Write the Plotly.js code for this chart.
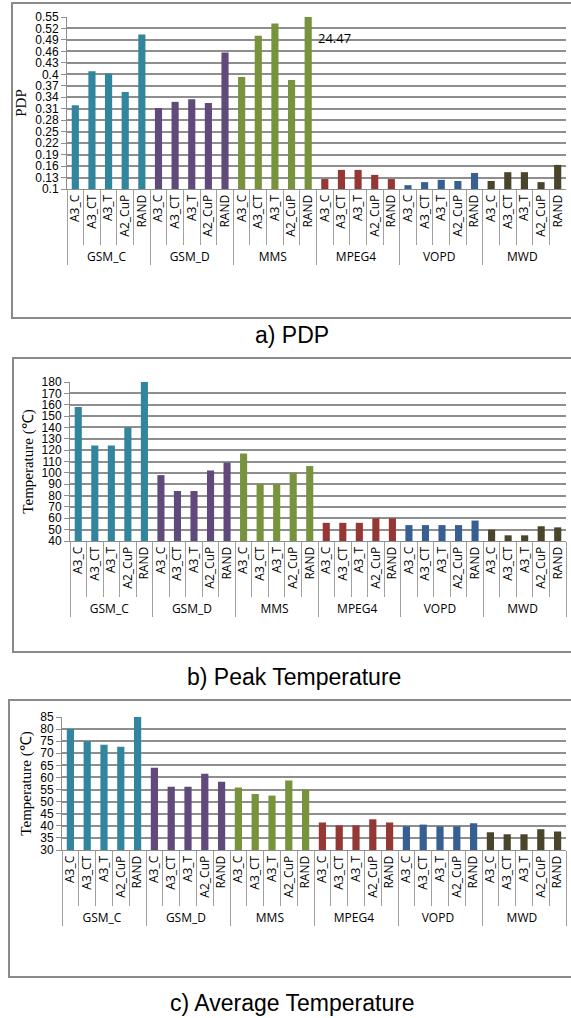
<!DOCTYPE html>
<html>
<head>
<meta charset="utf-8">
<script src="https://cdn.plot.ly/plotly-3.0.1.min.js"></script>
<style>
html,body{margin:0;padding:0;background:#fff;}
#chart{width:571px;height:1018px;}
</style>
</head>
<body>
<div id="chart"></div>
<script>
// ---- data ----
const benchmarks = ['GSM_C','GSM_D','MMS','MPEG4','VOPD','MWD'];
const methods = ['A3_C','A3_CT','A3_T','A2_CuP','RAND'];

const pdpValues = [
  0.319, 0.408, 0.402, 0.354, 0.504,
  0.312, 0.328, 0.335, 0.325, 0.457,
  0.393, 0.501, 0.533, 0.385, 24.47,
  0.126, 0.150, 0.150, 0.137, 0.126,
  0.110, 0.118, 0.124, 0.121, 0.142,
  0.121, 0.144, 0.144, 0.118, 0.163
];
const peakTempValues = [
  158, 124, 124, 140, 180,
  98, 84, 84, 102, 109,
  117, 90, 90, 100, 106,
  56, 56, 56, 60, 60,
  54, 54, 54, 54, 58,
  50, 45, 45, 53, 52
];
const avgTempValues = [
  80, 75, 73.5, 72.7, 85,
  64, 56.2, 56.2, 61.5, 58.2,
  55.8, 53.2, 52.5, 58.7, 55,
  41.4, 40.2, 40.2, 42.7, 41.4,
  39.8, 40.5, 39.8, 39.8, 41.1,
  37.3, 36.5, 36.5, 38.6, 37.7
];
const outOfRangeLabel = '24.47';

const captions = ['a) PDP', 'b) Peak Temperature', 'c) Average Temperature'];
const yTitles = ['PDP', 'Temperature (℃)', 'Temperature (℃)'];

// ---- style ----
const groupColors = ['#31859C','#604A7B','#77933C','#953735','#376092','#4A452A'];
const W = 571, H = 1018;
const px = v => v / W;
const py = v => 1 - v / H;

const xGroup = [], xSub = [], barColors = [];
benchmarks.forEach((b, gi) => methods.forEach(m => {
  xGroup.push(b); xSub.push(m); barColors.push(groupColors[gi]);
}));

function barTrace(vals, xa, ya) {
  return {
    type: 'bar', x: [xGroup, xSub], y: vals, xaxis: xa, yaxis: ya,
    marker: {color: barColors, line: {width: 0}}, hoverinfo: 'skip', showlegend: false
  };
}

const data = [
  barTrace(pdpValues, 'x', 'y'),
  barTrace(peakTempValues, 'x2', 'y2'),
  barTrace(avgTempValues, 'x3', 'y3')
];

const gridCol = '#8e8e8e';
const tickFont = {family: 'Open Sans, Liberation Sans, sans-serif', size: 12, color: '#000'};
function xAxis(dom, anchor) {
  return {
    domain: dom, anchor: anchor, type: 'multicategory', tickangle: -90,
    tickfont: tickFont, showgrid: false, showline: true, linecolor: gridCol, linewidth: 1,
    ticks: 'outside', ticklen: 55, tickcolor: '#a0a0a0', tickwidth: 1,
    showdividers: true, dividercolor: '#a0a0a0', dividerwidth: 1, fixedrange: true
  };
}
function yAxis(dom, anchor, range, tick0, dtick, title) {
  return {
    domain: dom, anchor: anchor, range: range, tickmode: 'linear', tick0: tick0, dtick: dtick,
    showgrid: true, gridcolor: gridCol, gridwidth: 2, zeroline: false,
    showline: true, linecolor: gridCol, linewidth: 1, ticks: 'outside', ticklen: 5, tickcolor: gridCol,
    tickfont: {family: 'Liberation Sans, Arial, sans-serif', size: 12, color: '#000'},
    title: {text: title, font: {family: 'Liberation Serif, Times New Roman, serif', size: 15, color: '#000'}, standoff: 4},
    fixedrange: true
  };
}

const frames = [[12, 3, 318], [13, 358, 652], [9, 700, 977]];
const shapes = frames.map(f => ({
  type: 'rect', xref: 'paper', yref: 'paper',
  x0: px(f[0]), x1: px(575), y0: py(f[2]), y1: py(f[1]),
  line: {color: '#8a8a8a', width: 2}, fillcolor: 'rgba(0,0,0,0)', layer: 'below'
}));

const capFont = {family: 'Liberation Sans, Arial, sans-serif', size: 23, color: '#000'};
const annotations = [
  {xref: 'paper', yref: 'paper', x: px(292), y: py(335), yanchor: 'middle', text: captions[0], showarrow: false, font: capFont},
  {xref: 'paper', yref: 'paper', x: px(294), y: py(677), yanchor: 'middle', text: captions[1], showarrow: false, font: capFont},
  {xref: 'paper', yref: 'paper', x: px(292), y: py(1003), yanchor: 'middle', text: captions[2], showarrow: false, font: capFont},
  {xref: 'paper', yref: 'paper', x: px(316), y: py(38), xanchor: 'left', yanchor: 'middle', text: outOfRangeLabel, showarrow: false,
   font: {family: 'Open Sans, Liberation Sans, sans-serif', size: 13, color: '#000'}}
];

const layout = {
  width: W, height: H, margin: {l: 0, r: 0, t: 0, b: 0},
  paper_bgcolor: '#fff', plot_bgcolor: '#fff', bargap: 0.57, showlegend: false,
  xaxis: xAxis([px(67), px(566)], 'y'),
  yaxis: yAxis([py(189), py(17)], 'x', [0.1, 0.55], 0.1, 0.03, yTitles[0]),
  xaxis2: xAxis([px(70), px(566)], 'y2'),
  yaxis2: yAxis([py(541), py(382)], 'x2', [40, 180], 40, 10, yTitles[1]),
  xaxis3: xAxis([px(62), px(566)], 'y3'),
  yaxis3: yAxis([py(850), py(717)], 'x3', [30, 85], 30, 5, yTitles[2]),
  shapes: shapes, annotations: annotations
};

Plotly.newPlot('chart', data, layout, {staticPlot: true, displayModeBar: false});
</script>
</body>
</html>
